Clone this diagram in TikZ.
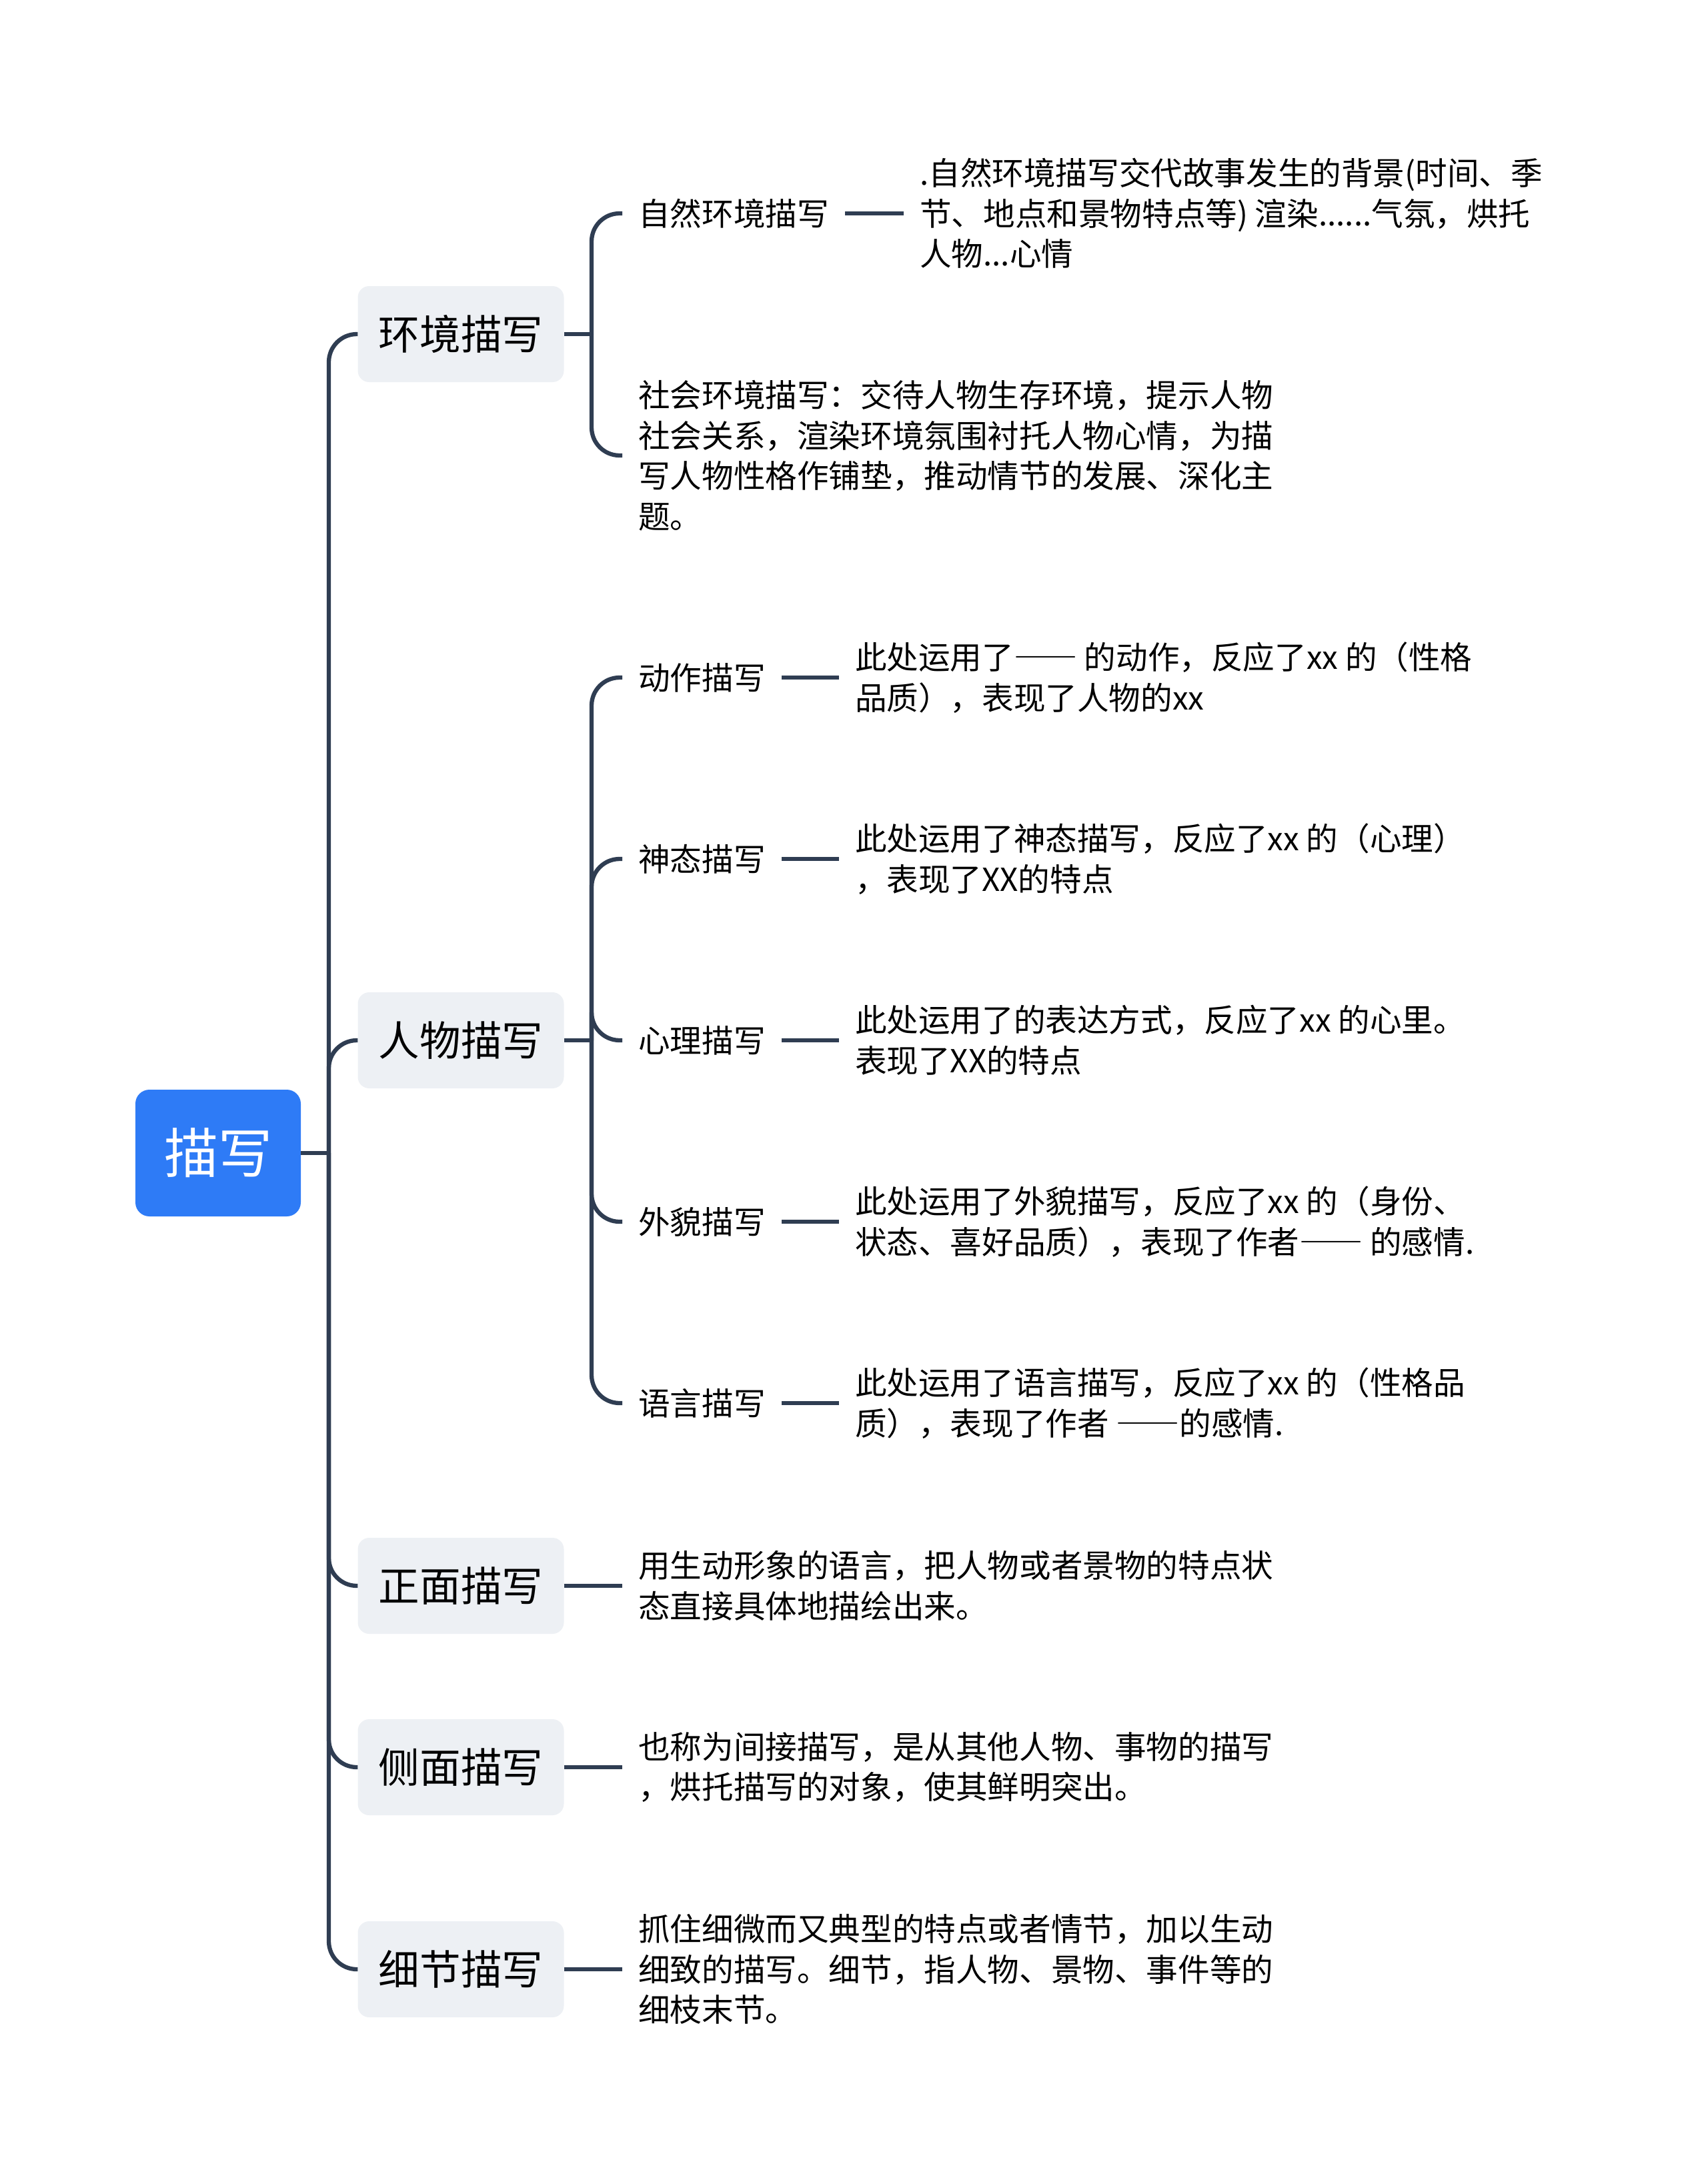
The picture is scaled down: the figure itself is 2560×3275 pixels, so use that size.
\documentclass[tikz,border=0pt]{standalone}
\usepackage{fontspec}
\setmainfont{Noto Sans CJK SC}
\usetikzlibrary{positioning}
\definecolor{linec}{HTML}{2F3D52}
\definecolor{rootc}{HTML}{2E7BF6}
\definecolor{boxc}{HTML}{EDF0F4}
\newcommand\longdash{{\addfontfeature{RawFeature=+fwid}——}}
\tikzset{
  rootbox/.style={fill=rootc, text=white, rounded corners=21pt, minimum width=248pt,
    minimum height=190pt, font=\fontsize{81}{90}\selectfont},
  mainbox/.style={fill=boxc, rounded corners=17pt, minimum width=309pt,
    minimum height=144pt, font=\fontsize{61.6}{70}\selectfont},
  subtext/.style={anchor=west, inner xsep=24pt, inner ysep=0pt, align=left,
    font=\fontsize{47.6}{60.6}\selectfont},
  link/.style={draw=linec, line width=6.3pt, rounded corners=42pt},
}

\begin{document}
\begin{tikzpicture}[x=1pt, y=-1pt]
  \useasboundingbox (0,0) rectangle (2560,3275);

  % root and main branches
  \node[rootbox] (root) at (327,1729) {描写};
  \coordinate (rj) at (493,1729);
  \node[mainbox] (hj) at (691,501) {环境描写};
  \node[mainbox] (rw) at (691,1560) {人物描写};
  \node[mainbox] (zm) at (691,2378) {正面描写};
  \node[mainbox] (cm) at (691,2650) {侧面描写};
  \node[mainbox] (xj) at (691,2953) {细节描写};
  \draw[link] (root.east) -- (rj);
  \foreach \n in {hj,rw,zm,cm,xj}
    \draw[link] (rj) |- (\n.west);

  % 环境描写
  \coordinate (hjj) at (887,501);
  \node[subtext] (zr) at (933,320) {自然环境描写};
  \node[subtext] (sh) at (933,683) {社会环境描写：交待人物生存环境，提示人物\\社会关系，渲染环境氛围衬托人物心情，为描\\写人物性格作铺垫，推动情节的发展、深化主\\题。};
  \node[subtext, right=88pt of zr] (zrl) {.自然环境描写交代故事发生的背景(时间、季\\节、地点和景物特点等) 渲染......气氛，烘托\\人物...心情};
  \draw[link] (hj.east) -- (hjj);
  \foreach \n in {zr,sh}
    \draw[link] (hjj) |- (\n.west);
  \draw[link] (zr) -- (zrl);

  % 人物描写
  \coordinate (rwj) at (887,1560);
  \node[subtext] (dz) at (933,1016) {动作描写};
  \node[subtext] (st) at (933,1288) {神态描写};
  \node[subtext] (xl) at (933,1560) {心理描写};
  \node[subtext] (wm) at (933,1832) {外貌描写};
  \node[subtext] (yy) at (933,2104) {语言描写};
  \node[subtext, right=86pt of dz] (dzl) {此处运用了\longdash{} 的动作，反应了xx 的（性格\\品质），表现了人物的xx};
  \node[subtext, right=86pt of st] (stl) {此处运用了神态描写，反应了xx 的（心理）\\，表现了XX的特点};
  \node[subtext, right=86pt of xl] (xll) {此处运用了的表达方式，反应了xx 的心里。\\表现了XX的特点};
  \node[subtext, right=86pt of wm] (wml) {此处运用了外貌描写，反应了xx 的（身份、\\状态、喜好品质），表现了作者\longdash{} 的感情.};
  \node[subtext, right=86pt of yy] (yyl) {此处运用了语言描写，反应了xx 的（性格品\\质），表现了作者 \longdash{}的感情.};
  \draw[link] (rw.east) -- (rwj);
  \foreach \n in {dz,st,xl,wm,yy}
    \draw[link] (rwj) |- (\n.west);
  \draw[link] (dz) -- (dzl);
  \draw[link] (st) -- (stl);
  \draw[link] (xl) -- (xll);
  \draw[link] (wm) -- (wml);
  \draw[link] (yy) -- (yyl);

  % 正面, 侧面, 细节
  \node[subtext] (zmt) at (933,2378) {用生动形象的语言，把人物或者景物的特点状\\态直接具体地描绘出来。};
  \node[subtext] (cmt) at (933,2650) {也称为间接描写，是从其他人物、事物的描写\\，烘托描写的对象，使其鲜明突出。};
  \node[subtext] (xjt) at (933,2953) {抓住细微而又典型的特点或者情节，加以生动\\细致的描写。细节，指人物、景物、事件等的\\细枝末节。};
  \draw[link] (zm) -- (zmt);
  \draw[link] (cm) -- (cmt);
  \draw[link] (xj) -- (xjt);
\end{tikzpicture}
\end{document}
